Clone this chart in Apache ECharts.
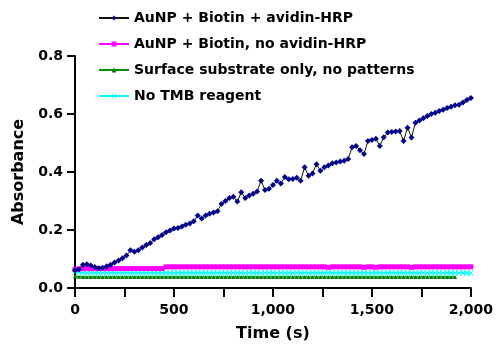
<!DOCTYPE html>
<html><head><meta charset="utf-8">
<script src="https://cdn.jsdelivr.net/npm/echarts@6/dist/echarts.min.js"></script>
<style>html,body{margin:0;padding:0;background:#fff}#c{width:496px;height:347px}</style>
</head><body><div id="c"></div>
<script>
var seriesNames = ["AuNP + Biotin + avidin-HRP","AuNP + Biotin, no avidin-HRP","Surface substrate only, no patterns","No TMB reagent"];
var xTickLabels = ["0","500","1,000","1,500","2,000"];
var yTickLabels = ["0.0","0.2","0.4","0.6","0.8"];
var times = [0,20,40,60,80,100,120,140,160,180,200,220,240,260,280,300,320,340,360,380,400,420,440,460,480,500,520,540,560,580,600,620,640,660,680,700,720,740,760,780,800,820,840,860,880,900,920,940,960,980,1000,1020,1040,1060,1080,1100,1120,1140,1160,1180,1200,1220,1240,1260,1280,1300,1320,1340,1360,1380,1400,1420,1440,1460,1480,1500,1520,1540,1560,1580,1600,1620,1640,1660,1680,1700,1720,1740,1760,1780,1800,1820,1840,1860,1880,1900,1920,1940,1960,1980,2000];
var withHRP = [0.060,0.065,0.080,0.082,0.078,0.072,0.068,0.070,0.075,0.080,0.088,0.095,0.103,0.112,0.130,0.125,0.130,0.140,0.148,0.155,0.168,0.175,0.183,0.192,0.198,0.205,0.207,0.212,0.218,0.222,0.230,0.250,0.240,0.250,0.256,0.260,0.265,0.290,0.300,0.310,0.315,0.298,0.330,0.310,0.319,0.325,0.333,0.370,0.338,0.342,0.355,0.370,0.360,0.383,0.375,0.376,0.380,0.370,0.416,0.387,0.395,0.427,0.404,0.416,0.422,0.430,0.433,0.436,0.439,0.445,0.485,0.490,0.475,0.462,0.507,0.510,0.515,0.490,0.520,0.536,0.538,0.540,0.541,0.507,0.553,0.519,0.570,0.578,0.585,0.593,0.600,0.604,0.610,0.615,0.621,0.625,0.630,0.632,0.640,0.648,0.655];
var noHRP = [0.064,0.066,0.067,0.067,0.067,0.067,0.067,0.067,0.067,0.067,0.067,0.067,0.067,0.067,0.067,0.067,0.067,0.067,0.067,0.067,0.067,0.067,0.067,0.073,0.073,0.073,0.073,0.073,0.073,0.073,0.073,0.073,0.073,0.073,0.073,0.073,0.073,0.073,0.073,0.073,0.073,0.073,0.073,0.073,0.073,0.073,0.073,0.073,0.073,0.073,0.073,0.073,0.073,0.073,0.073,0.073,0.073,0.073,0.073,0.073,0.073,0.073,0.073,0.073,0.071,0.073,0.073,0.073,0.073,0.073,0.073,0.073,0.073,0.071,0.073,0.073,0.071,0.073,0.073,0.073,0.073,0.073,0.073,0.073,0.073,0.071,0.073,0.073,0.073,0.073,0.073,0.073,0.073,0.073,0.073,0.073,0.073,0.073,0.073,0.073,0.073];
var substrateOnly = [0.040,0.039,0.038,0.038,0.038,0.038,0.038,0.038,0.038,0.038,0.038,0.038,0.038,0.038,0.038,0.038,0.038,0.038,0.038,0.038,0.038,0.038,0.038,0.038,0.038,0.038,0.038,0.038,0.038,0.038,0.038,0.038,0.038,0.038,0.038,0.038,0.038,0.038,0.038,0.038,0.038,0.038,0.038,0.038,0.038,0.038,0.038,0.038,0.038,0.038,0.038,0.038,0.038,0.038,0.038,0.038,0.038,0.038,0.038,0.038,0.038,0.038,0.038,0.038,0.038,0.038,0.038,0.038,0.038,0.038,0.038,0.038,0.038,0.038,0.038,0.038,0.038,0.038,0.038,0.038,0.038,0.038,0.038,0.038,0.038,0.038,0.038,0.038,0.038,0.038,0.038,0.038,0.038,0.038,0.038,0.038,0.038];
var noTMB = [0.055,0.054,0.053,0.052,0.052,0.052,0.052,0.052,0.052,0.052,0.052,0.052,0.052,0.052,0.052,0.052,0.052,0.052,0.052,0.052,0.052,0.052,0.052,0.052,0.052,0.052,0.052,0.052,0.052,0.052,0.052,0.052,0.052,0.052,0.052,0.052,0.052,0.052,0.052,0.052,0.052,0.052,0.052,0.052,0.052,0.052,0.052,0.052,0.052,0.052,0.052,0.052,0.052,0.052,0.052,0.052,0.052,0.052,0.052,0.052,0.052,0.052,0.052,0.052,0.052,0.052,0.052,0.052,0.052,0.052,0.052,0.052,0.052,0.052,0.052,0.052,0.052,0.052,0.052,0.052,0.052,0.052,0.052,0.052,0.052,0.052,0.052,0.052,0.052,0.052,0.052,0.052,0.052,0.052,0.052,0.052,0.052,0.052,0.052,0.052,0.052];

function pairs(vals){ return vals.map(function(v,i){ return [times[i], v]; }); }
var F = "'DejaVu Sans', sans-serif";
var xMark = 'path://M0,1L1,0L5,4L9,0L10,1L6,5L10,9L9,10L5,6L1,10L0,9L4,5Z';

var chart = echarts.init(document.getElementById('c'), null, {renderer:'canvas'});
chart.setOption({
  animation:false,
  backgroundColor:'#fff',
  grid:{left:75, right:23, top:56, bottom:57, containLabel:false},
  legend:{
    orient:'vertical', left:93, top:6, itemGap:12, itemWidth:30, itemHeight:6,
    textStyle:{fontFamily:F, fontWeight:'bold', fontSize:14, color:'#000'},
    data:seriesNames
  },
  xAxis:{
    type:'value', min:0, max:2000, interval:250,
    name:'Time (s)', nameLocation:'middle', nameGap:38,
    nameTextStyle:{fontFamily:F, fontWeight:'bold', fontSize:16, color:'#000'},
    axisLine:{show:true, lineStyle:{color:'#000', width:2}},
    axisTick:{show:true, length:9, lineStyle:{color:'#000', width:2}},
    axisLabel:{margin:15, fontFamily:F, fontWeight:'bold', fontSize:14, color:'#000',
      formatter:function(v){ return v % 500 === 0 ? xTickLabels[v/500] : ''; }},
    splitLine:{show:false}
  },
  yAxis:{
    type:'value', min:0, max:0.8, interval:0.2,
    name:'Absorbance', nameLocation:'middle', nameGap:44,
    nameTextStyle:{fontFamily:F, fontWeight:'bold', fontSize:16, color:'#000'},
    axisLine:{show:true, lineStyle:{color:'#000', width:2}},
    axisTick:{show:true, length:8, lineStyle:{color:'#000', width:2}},
    axisLabel:{margin:12, fontFamily:F, fontWeight:'bold', fontSize:14, color:'#000',
      formatter:function(v){ return yTickLabels[Math.round(v/0.2)]; }},
    splitLine:{show:false}
  },
  series:[
    {name:seriesNames[0], type:'line', z:5, data:pairs(withHRP), symbol:'diamond', symbolSize:6,
      itemStyle:{color:'#00008B'}, lineStyle:{color:'#111', width:1}},
    {name:seriesNames[1], type:'line', z:4, data:pairs(noHRP), symbol:'rect', symbolSize:5,
      itemStyle:{color:'#FF00FF'}, lineStyle:{color:'#FF00FF', width:1.5}},
    {name:seriesNames[2], type:'line', z:2, data:pairs(substrateOnly), symbol:'triangle', symbolSize:4,
      itemStyle:{color:'#007A00'}, lineStyle:{color:'#009000', width:1.5}},
    {name:seriesNames[3], type:'line', z:3, data:pairs(noTMB), symbol:xMark, symbolSize:6,
      itemStyle:{color:'#00FFFF'}, lineStyle:{color:'#00FFFF', width:1.5}}
  ]
});
</script></body></html>
